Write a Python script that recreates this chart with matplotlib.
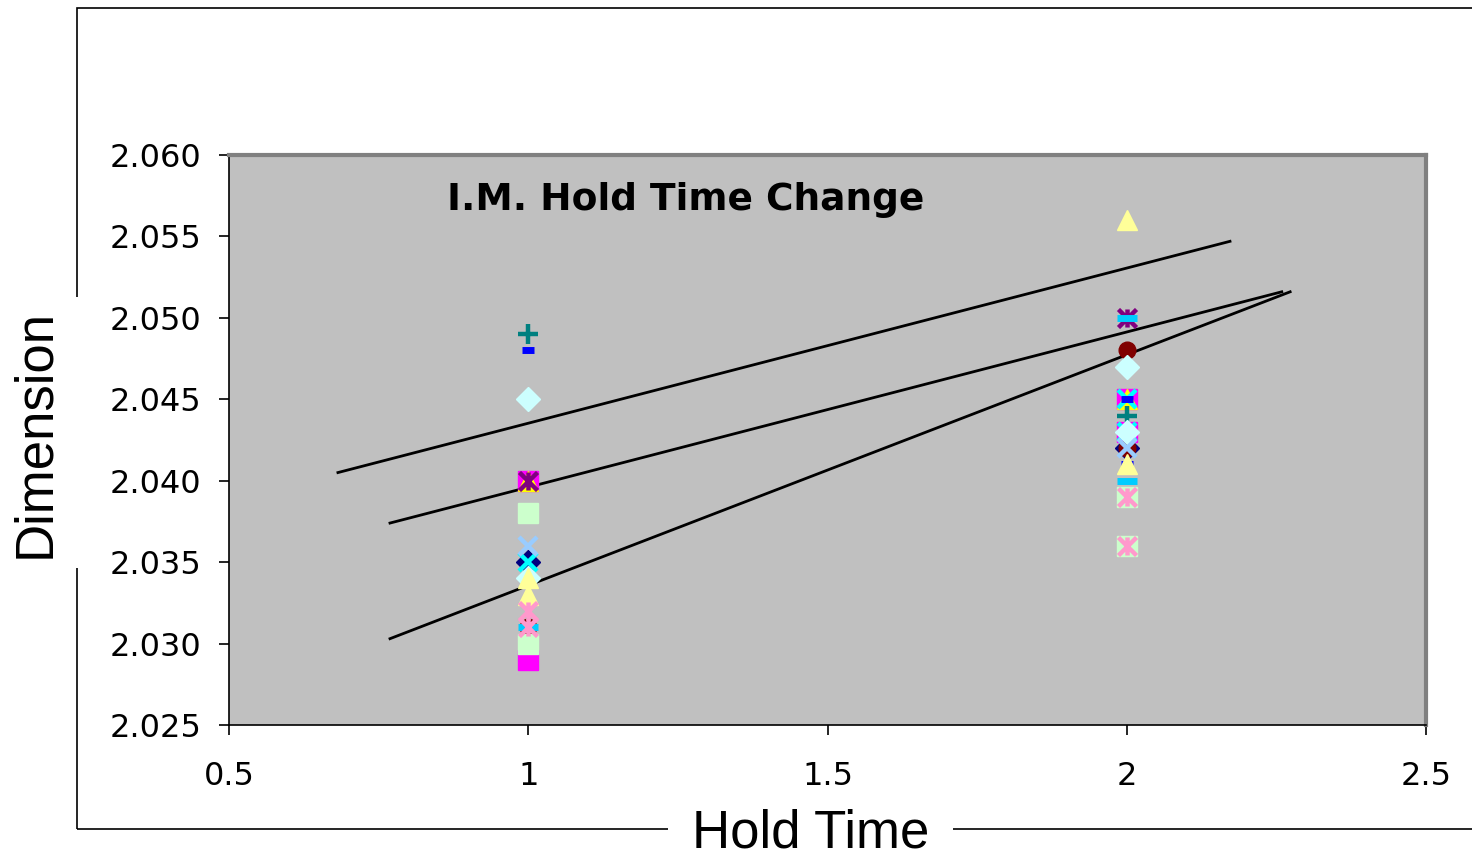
import matplotlib
matplotlib.use("Agg")
import matplotlib.pyplot as plt
from matplotlib.path import Path
from matplotlib.patches import Rectangle

# data
hold_times = [1, 2]
series_names = ["s1", "s2", "s3", "s4", "s5", "s6", "s7",
                "s8", "s9", "s10", "s11", "s12", "s13", "s14"]
dims_at_1 = [
    [2.035], [2.040, 2.029], [2.040], [2.035], [2.040], [2.031], [2.049],
    [2.048], [2.031], [2.045, 2.034], [2.038, 2.030], [2.034, 2.033],
    [2.036], [2.032, 2.031],
]
dims_at_2 = [
    [2.042], [2.045, 2.043], [2.045], [2.045, 2.043], [2.050], [2.048, 2.042],
    [2.044], [2.045, 2.041], [2.050, 2.040], [2.047, 2.043], [2.039, 2.036],
    [2.056, 2.041], [2.042], [2.039, 2.036],
]
trend_x = [[0.682, 2.1725], [0.769, 2.259], [0.769, 2.273]]
trend_y = [[2.0405, 2.0547], [2.0374, 2.0516], [2.0303, 2.0516]]

# excel style markers
star = Path([(-1, -1), (1, 1), (-1, 1), (1, -1), (0, -1), (0, 1)],
            [Path.MOVETO, Path.LINETO, Path.MOVETO, Path.LINETO, Path.MOVETO, Path.LINETO])
styles = [
    ("#000080", "D", 12), ("#FF00FF", "s", 14), ("#FFFF00", "^", 14),
    ("#00FFFF", "x", 13), ("#800080", star, 13), ("#800000", "o", 12),
    ("#008080", "+", 15), ("#0000FF", "_", 9), ("#00CCFF", "_", 14),
    ("#CCFFFF", "D", 12), ("#CCFFCC", "s", 14), ("#FFFF99", "^", 14),
    ("#99CCFF", "x", 13), ("#FF99CC", star, 13),
]

fig = plt.figure(figsize=(14.72, 8.58), dpi=100)
ax = fig.add_axes([229 / 1472, 1 - 725 / 858, 1197 / 1472, 570 / 858])
ax.set_facecolor("#C0C0C0")

for x, y in zip(trend_x, trend_y):
    ax.plot(x, y, color="black", lw=2.0, zorder=2)

for name, y1, y2, (c, m, ms) in zip(series_names, dims_at_1, dims_at_2, styles):
    xs = [hold_times[0]] * len(y1) + [hold_times[1]] * len(y2)
    ys = y1 + y2
    if m in ("x", "+") or m is star:
        ax.plot(xs, ys, ls="none", marker=m, ms=ms, mec=c, mew=3.2, zorder=3)
    elif m == "_":
        ax.plot(xs, ys, ls="none", marker=m, ms=ms, mec=c, mew=5, zorder=3)
    else:
        ax.plot(xs, ys, ls="none", marker=m, ms=ms, mfc=c, mec=c, zorder=3)

ax.set_xlim(0.5, 2.5)
ax.set_ylim(2.025, 2.060)
ax.set_xticks([0.5, 1, 1.5, 2, 2.5])
ax.set_xticklabels(["0.5", "1", "1.5", "2", "2.5"])
ax.set_yticks([2.025, 2.030, 2.035, 2.040, 2.045, 2.050, 2.055, 2.060])
ax.set_yticklabels(["%.3f" % v for v in ax.get_yticks()])
ax.tick_params(axis="both", labelsize=23, direction="out", length=7, width=1.2)
ax.tick_params(axis="y", pad=13)
ax.tick_params(axis="x", pad=19)
for s in ax.spines.values():
    s.set_color("#808080")
    s.set_linewidth(3)
ax.spines["left"].set_color("black")
ax.spines["left"].set_linewidth(1.2)
ax.spines["bottom"].set_color("black")
ax.spines["bottom"].set_linewidth(1.2)

ax.text(0.182, 0.921, "I.M. Hold Time Change", transform=ax.transAxes,
        fontsize=27, fontweight="bold", ha="left", va="center")

# outer chart frame, with gaps behind the axis titles
fig.patches.append(Rectangle((77 / 1472, 1 - 829 / 858), 1.5, (829 - 8) / 858,
                             transform=fig.transFigure, fill=False,
                             edgecolor="black", lw=1.2, zorder=0))
fig.patches.append(Rectangle((60 / 1472, 1 - 568 / 858), 30 / 1472, 271 / 858,
                             transform=fig.transFigure, facecolor="white",
                             edgecolor="none", zorder=1))
fig.patches.append(Rectangle((668 / 1472, 1 - 840 / 858), 285 / 1472, 20 / 858,
                             transform=fig.transFigure, facecolor="white",
                             edgecolor="none", zorder=1))

fig.text(35 / 1472, 1 - 433 / 858, "Dimension", rotation=90, fontsize=38,
         family="Liberation Sans", ha="center", va="center", zorder=2)
fig.text(811 / 1472, 1 - 834 / 858, "Hold Time", fontsize=38,
         family="Liberation Sans", ha="center", va="center", zorder=2)

fig.savefig("out.png", dpi=100)
